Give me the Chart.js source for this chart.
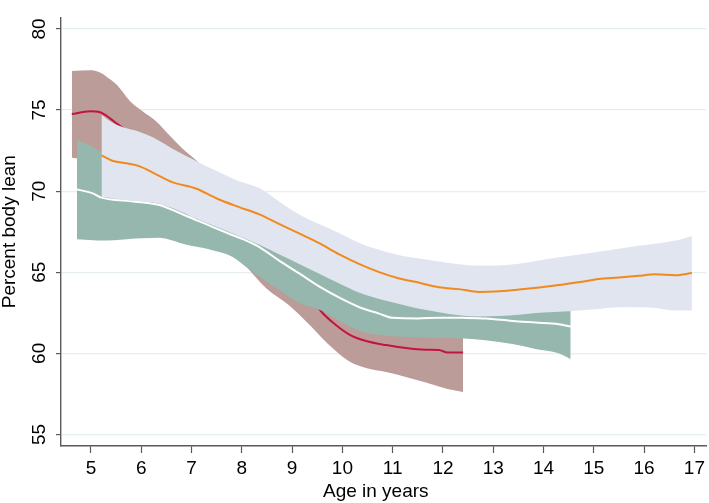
<!DOCTYPE html>
<html>
<head>
<meta charset="utf-8">
<script src="https://cdn.jsdelivr.net/npm/chart.js@4.4.1/dist/chart.umd.min.js"></script>
<style>
html,body{margin:0;padding:0;background:#fff;}
#wrap{width:709px;height:503px;position:relative;}
</style>
</head>
<body>
<div id="wrap"><canvas id="c"></canvas></div>
<script>
// ---- Data ----
const xTicks = [5, 6, 7, 8, 9, 10, 11, 12, 13, 14, 15, 16, 17];
const yTicks = [55, 60, 65, 70, 75, 80];

// Red series (band + line)
const ageRed   = [4.62, 4.98, 5.18, 5.38, 5.52, 5.77, 6.04, 6.30, 6.57, 6.83, 7.12, 7.50, 7.96, 8.49, 8.95, 9.35, 9.58, 9.87, 10.14, 10.47, 10.87, 11.26, 11.66, 11.92, 12.09, 12.40];
const redUpper = [77.41, 77.45, 77.32, 76.90, 76.54, 75.58, 74.89, 74.30, 73.42, 72.60, 71.82, 70.60, 69.60, 68.20, 66.80, 65.70, 65.10, 64.40, 63.90, 63.40, 63.00, 62.70, 62.40, 62.20, 62.10, 62.00];
const redMean  = [74.75, 74.92, 74.86, 74.49, 74.15, 73.60, 73.00, 72.40, 71.80, 71.20, 70.50, 69.60, 68.40, 66.90, 65.30, 63.60, 62.58, 61.75, 61.16, 60.76, 60.51, 60.33, 60.23, 60.21, 60.05, 60.05];
const redLower = [72.06, 71.90, 71.70, 71.40, 71.10, 70.60, 70.00, 69.40, 68.80, 68.20, 67.50, 66.60, 65.72, 64.00, 62.94, 61.75, 61.00, 60.15, 59.50, 59.10, 58.85, 58.55, 58.20, 57.95, 57.80, 57.62];

// Green series (band + white line)
const ageGreen   = [4.72, 5.05, 5.21, 5.71, 6.34, 6.90, 7.36, 7.82, 8.09, 8.35, 8.75, 9.15, 9.58, 9.94, 10.34, 10.73, 11.00, 11.50, 11.92, 12.42, 12.85, 13.38, 13.84, 14.30, 14.54];
const greenUpper = [73.17, 72.71, 72.42, 72.00, 71.60, 71.00, 70.40, 69.80, 69.40, 69.00, 68.30, 67.60, 66.80, 66.10, 65.40, 64.90, 64.60, 64.30, 64.20, 64.10, 64.00, 63.90, 63.80, 63.70, 63.60];
const greenMean  = [70.11, 69.85, 69.60, 69.40, 69.16, 68.47, 67.87, 67.28, 66.95, 66.55, 65.70, 64.91, 64.05, 63.43, 62.84, 62.45, 62.19, 62.15, 62.20, 62.19, 62.15, 62.00, 61.90, 61.80, 61.65];
const greenLower = [67.04, 66.98, 66.95, 67.04, 67.12, 66.69, 66.40, 65.94, 65.31, 64.72, 63.90, 63.10, 62.64, 62.00, 61.40, 61.13, 61.05, 60.98, 60.96, 60.91, 60.81, 60.57, 60.27, 60.00, 59.64];

// Lavender series (band + orange line)
const ageLav   = [5.21, 5.44, 5.71, 5.97, 6.24, 6.63, 7.10, 7.49, 7.96, 8.35, 8.75, 9.15, 9.54, 9.94, 10.34, 10.73, 11.13, 11.53, 11.92, 12.32, 12.72, 13.12, 13.51, 13.91, 14.31, 14.70, 15.10, 15.50, 15.89, 16.22, 16.62, 16.95];
const lavUpper = [74.69, 74.20, 73.87, 73.65, 73.30, 72.60, 71.85, 71.25, 70.60, 70.20, 69.35, 68.55, 67.97, 67.40, 66.80, 66.38, 66.05, 65.85, 65.66, 65.50, 65.41, 65.42, 65.52, 65.72, 65.92, 66.10, 66.27, 66.45, 66.63, 66.75, 66.95, 67.24];
const lavMean  = [72.20, 71.86, 71.72, 71.53, 71.13, 70.54, 70.15, 69.56, 69.00, 68.57, 67.97, 67.38, 66.79, 66.10, 65.50, 65.01, 64.62, 64.35, 64.08, 63.96, 63.79, 63.83, 63.93, 64.06, 64.22, 64.38, 64.58, 64.67, 64.78, 64.88, 64.82, 64.95];
const lavLower = [69.65, 69.55, 69.45, 69.37, 69.30, 68.95, 68.30, 67.80, 67.20, 66.69, 66.10, 65.50, 64.91, 64.30, 63.73, 63.35, 63.04, 62.75, 62.54, 62.35, 62.27, 62.30, 62.38, 62.50, 62.56, 62.64, 62.74, 62.84, 62.84, 62.80, 62.64, 62.64];

// ---- Build chart ----
const pts = (xs, ys) => xs.map((x, i) => ({x: x, y: ys[i]}));
const NONE = 'rgba(0,0,0,0)';
const FONT = "'Liberation Sans', Arial, Helvetica, sans-serif";
const common = {pointRadius: 0, pointHoverRadius: 0, cubicInterpolationMode: 'monotone'};

const datasets = [
  Object.assign({label: 'lavMean', data: pts(ageLav, lavMean), borderColor: '#f2891d', borderWidth: 2, fill: false, order: 1}, common),
  Object.assign({label: 'greenMean', data: pts(ageGreen, greenMean), borderColor: '#ffffff', borderWidth: 2, fill: false, order: 2}, common),
  Object.assign({label: 'lavUpper', data: pts(ageLav, lavUpper), borderColor: NONE, borderWidth: 0, backgroundColor: '#e1e5ef', fill: 3, order: 3}, common),
  Object.assign({label: 'lavLower', data: pts(ageLav, lavLower), borderColor: NONE, borderWidth: 0, fill: false, order: 3}, common),
  Object.assign({label: 'greenUpper', data: pts(ageGreen, greenUpper), borderColor: NONE, borderWidth: 0, backgroundColor: '#95b7ae', fill: 5, order: 4}, common),
  Object.assign({label: 'greenLower', data: pts(ageGreen, greenLower), borderColor: NONE, borderWidth: 0, fill: false, order: 4}, common),
  Object.assign({label: 'redMean', data: pts(ageRed, redMean), borderColor: '#c2143f', borderWidth: 2, fill: false, order: 5}, common),
  Object.assign({label: 'redUpper', data: pts(ageRed, redUpper), borderColor: NONE, borderWidth: 0, backgroundColor: '#bc9c98', fill: 8, order: 6}, common),
  Object.assign({label: 'redLower', data: pts(ageRed, redLower), borderColor: NONE, borderWidth: 0, fill: false, order: 6}, common)
];

new Chart(document.getElementById('c'), {
  type: 'line',
  data: {datasets: datasets},
  options: {
    responsive: true,
    maintainAspectRatio: false,
    animation: false,
    events: [],
    layout: {padding: {top: 0, right: 1, left: 0, bottom: 0}},
    plugins: {legend: {display: false}, tooltip: {enabled: false}},
    scales: {
      x: {
        type: 'linear',
        min: 4.405,
        max: 17.238,
        afterBuildTicks: s => { s.ticks = xTicks.map(v => ({value: v})); },
        afterFit: s => { s.height = 57; },
        ticks: {
          font: {family: FONT, size: 19},
          color: '#000',
          padding: 4,
          maxRotation: 0,
          autoSkip: false,
          callback: v => String(v)
        },
        grid: {drawOnChartArea: false, drawTicks: true, tickLength: 7, tickColor: '#5a5a5a', tickWidth: 1.2},
        border: {display: true, color: '#5a5a5a', width: 1.4},
        title: {display: true, text: 'Age in years\u00a0\u00a0\u00a0', color: '#000', font: {family: FONT, size: 19, lineHeight: 1.2}, padding: 0}
      },
      y: {
        type: 'linear',
        min: 54.289,
        max: 80.711,
        afterBuildTicks: s => { s.ticks = yTicks.map(v => ({value: v})); },
        afterFit: s => { s.width = 61; },
        ticks: {
          font: {family: FONT, size: 19},
          color: '#000',
          padding: 6,
          minRotation: 90,
          maxRotation: 90,
          crossAlign: 'center',
          autoSkip: false,
          callback: v => String(v)
        },
        grid: {color: '#e6eef0', lineWidth: 1.2, drawTicks: true, tickLength: 5, tickColor: '#5a5a5a', tickWidth: 1.2},
        border: {display: true, color: '#5a5a5a', width: 1.4},
        title: {display: true, text: 'Percent body lean', color: '#000', font: {family: FONT, size: 19, lineHeight: 1.05}, padding: 0}
      }
    }
  }
});
</script>
</body>
</html>
